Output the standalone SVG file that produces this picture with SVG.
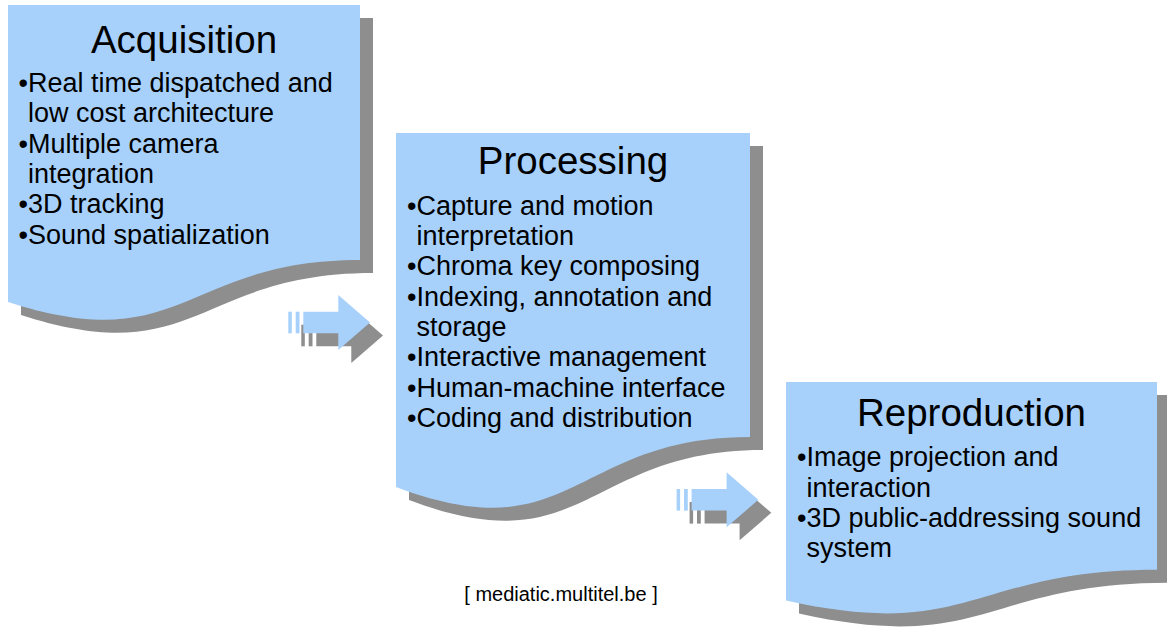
<svg xmlns="http://www.w3.org/2000/svg" width="1167" height="627" viewBox="0 0 1167 627">
<defs>
<style>
.box{fill:#a7d1fb}
.sh{fill:#8e8e8e}
.ttl{font-family:"Liberation Sans",Arial,sans-serif;font-size:38.5px;fill:#000;text-anchor:middle}
.bl{font-family:"Liberation Sans",Arial,sans-serif;font-size:27px;fill:#000}
.ft{font-family:"Liberation Sans",Arial,sans-serif;font-size:20px;fill:#000;text-anchor:middle}
</style>
<g id="arrowShape">
<rect x="288.3" y="311.7" width="3.5" height="21.6"/>
<rect x="295.7" y="311.7" width="3.8" height="21.6"/>
<polygon points="303.3,311.7 338.3,311.7 338.3,295 370,322.5 338.3,350 338.3,333.3 303.3,333.3"/>
</g>
</defs>
<rect width="1167" height="627" fill="#fff"/>

<g id="connectors">
<g id="arrow1">
<use href="#arrowShape" class="sh" transform="translate(13,13)"/>
<use href="#arrowShape" class="box"/>
</g>
<g id="arrow2">
<use href="#arrowShape" class="sh" transform="translate(401.3,190.3)"/>
<use href="#arrowShape" class="box" transform="translate(388.3,177.3)"/>
</g>
</g>

<g id="acquisition">
<path class="sh" d="M21,18 H373 V273 C197,273 197,372 21,315 Z"/>
<path class="box" d="M8,5 H360 V260 C184,260 184,359 8,302 Z"/>
<text class="ttl" x="184" y="52.5">Acquisition</text>
<text class="bl">
<tspan x="18.6" y="92">•Real time dispatched and</tspan>
<tspan x="28" y="122.3">low cost architecture</tspan>
<tspan x="18.6" y="152.7">•Multiple camera</tspan>
<tspan x="28" y="183">integration</tspan>
<tspan x="18.6" y="213.4">•3D tracking</tspan>
<tspan x="18.6" y="243.8">•Sound spatialization</tspan>
</text>
</g>

<g id="processing">
<path class="sh" d="M409,146 H763 V450 C586,450 586,567 409,500 Z"/>
<path class="box" d="M396,133 H750 V437 C573,437 573,554 396,487 Z"/>
<text class="ttl" x="573" y="173.8">Processing</text>
<text class="bl">
<tspan x="407" y="214.6">•Capture and motion</tspan>
<tspan x="416.4" y="244.9">interpretation</tspan>
<tspan x="407" y="275.3">•Chroma key composing</tspan>
<tspan x="407" y="305.7">•Indexing, annotation and</tspan>
<tspan x="416.4" y="336">storage</tspan>
<tspan x="407" y="366.3">•Interactive management</tspan>
<tspan x="407" y="396.7">•Human-machine interface</tspan>
<tspan x="407" y="427.1">•Coding and distribution</tspan>
</text>
</g>

<g id="reproduction">
<path class="sh" d="M799,395 H1170 V582.7 C984.5,582.7 984.5,655 799,613.6 Z"/>
<path class="box" d="M786,382 H1157 V569.7 C971.5,569.7 971.5,642 786,600.6 Z"/>
<text class="ttl" x="971.5" y="425.5">Reproduction</text>
<text class="bl">
<tspan x="797" y="466.3">•Image projection and</tspan>
<tspan x="806.4" y="496.6">interaction</tspan>
<tspan x="797" y="527">•3D public-addressing sound</tspan>
<tspan x="806.4" y="557.3">system</tspan>
</text>
</g>

<text id="footer" class="ft" x="561" y="601">[ mediatic.multitel.be ]</text>
</svg>
